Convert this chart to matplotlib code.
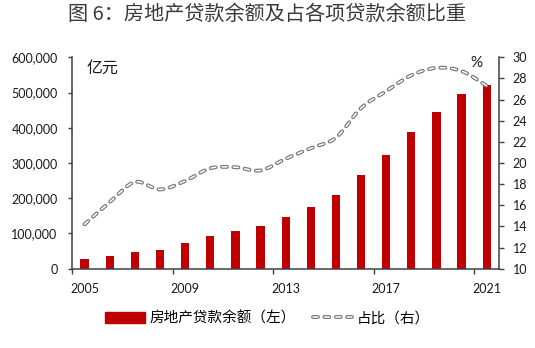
import matplotlib
matplotlib.use("Agg")
import matplotlib.pyplot as plt
from matplotlib.path import Path
from matplotlib.patches import PathPatch, Rectangle
from matplotlib.lines import Line2D
from matplotlib.legend_handler import HandlerTuple
from matplotlib.ticker import FuncFormatter, FixedLocator

plt.rcParams['font.family'] = ['Lato', 'Noto Sans CJK SC', 'DejaVu Sans']
plt.rcParams['lines.scale_dashes'] = False

years = list(range(2005, 2022))
loans = [27700, 36800, 48000, 52800, 73300, 93500, 107300, 121100, 146100,
         173700, 210100, 266800, 322000, 387000, 444100, 495800, 522500]
share = [14.2, 16.3, 18.2, 17.5, 18.3, 19.5, 19.6, 19.3, 20.4,
         21.4, 22.4, 25.2, 26.8, 28.3, 29.0, 28.7, 27.3]
label_years = ['2005', '2009', '2013', '2017', '2021']

RED = '#C00000'
GRAY = '#777777'
AXC = '#404040'
TXT = '#1a1a1a'
CJK = ['Noto Sans CJK SC', 'DejaVu Sans']

fig = plt.figure(figsize=(5.35, 3.48), dpi=100)
ax = fig.add_axes([0.1346, 0.2279, 0.9333 - 0.1346, 0.8353 - 0.2279])
ax2 = ax.twinx()

x = list(range(len(years)))
ax.bar(x, loans, width=0.33, color=RED, zorder=2)
ax.set_xlim(-0.5, len(years) - 0.5)
ax.set_ylim(0, 600000)
ax.set_yticks(range(0, 600001, 100000))
ax.yaxis.set_major_formatter(FuncFormatter(lambda v, p: f"{int(v):,}"))

# category boundary ticks every 4 years, labels centred on the bars
ax.xaxis.set_major_locator(FixedLocator([-0.5, 3.5, 7.5, 11.5, 15.5]))
ax.xaxis.set_major_formatter(FuncFormatter(lambda v, p: ""))
ax.xaxis.set_minor_locator(FixedLocator([0, 4, 8, 12, 16]))
ax.set_xticklabels(label_years, minor=True)
ax.tick_params(axis='x', which='major', direction='out', length=3.5, width=1, color=AXC)
ax.tick_params(axis='x', which='minor', length=0, pad=10, labelsize=9, labelcolor=TXT)
ax.tick_params(axis='y', direction='out', length=2.8, width=1, color=AXC,
               pad=7.5, labelsize=9, labelcolor=TXT)

ax2.set_ylim(10, 30)
ax2.set_yticks(range(10, 31, 2))
ax2.tick_params(axis='y', direction='out', length=3.5, width=1, color=AXC,
                pad=6, labelsize=9, labelcolor=TXT)

for a in (ax, ax2):
    a.spines['top'].set_visible(False)
    for s in ('left', 'right', 'bottom'):
        a.spines[s].set_color(AXC)
        a.spines[s].set_linewidth(1.1)
ax.spines['right'].set_visible(False)
ax2.spines['left'].set_visible(False)
ax2.spines['bottom'].set_visible(False)

# smoothed share curve (Catmull-Rom segments as cubic Bezier)
pts = list(zip(x, share))
verts = [pts[0]]
codes = [Path.MOVETO]
n = len(pts)
for i in range(n - 1):
    p0 = pts[i - 1] if i > 0 else pts[i]
    p1 = pts[i]
    p2 = pts[i + 1]
    p3 = pts[i + 2] if i + 2 < n else pts[i + 1]
    c1 = (p1[0] + (p2[0] - p0[0]) / 6, p1[1] + (p2[1] - p0[1]) / 6)
    c2 = (p2[0] - (p3[0] - p1[0]) / 6, p2[1] - (p3[1] - p1[1]) / 6)
    verts += [c1, c2, p2]
    codes += [Path.CURVE4] * 3
curve = Path(verts, codes)

dash = (0, (3.6, 4.6))
outer = PathPatch(curve, fill=False, edgecolor=GRAY, linewidth=2.8,
                  linestyle=dash, capstyle='round', zorder=3)
inner = PathPatch(curve, fill=False, edgecolor='white', linewidth=1.1,
                  linestyle=dash, capstyle='round', zorder=4)
ax2.add_patch(outer)
ax2.add_patch(inner)

ax.text(0.033, 0.95, '亿元', transform=ax.transAxes, fontsize=11.5,
        color=TXT, ha='left', va='center', family=CJK)
ax2.text(0.947, 0.975, '%', transform=ax2.transAxes, fontsize=11,
         color=TXT, ha='center', va='center')

fig.suptitle('图 6：房地产贷款余额及占各项贷款余额比重', x=0.5, y=0.99,
             va='top', fontsize=14.5, color='#3a3a3a', family=CJK)

h_bar = Rectangle((0, 0), 1, 1, color=RED)
h_out = Line2D([], [], color=GRAY, lw=2.8, linestyle=dash, dash_capstyle='round')
h_in = Line2D([], [], color='white', lw=1.1, linestyle=dash, dash_capstyle='round')
fig.legend([h_bar, (h_out, h_in)], ['房地产贷款余额（左）', '占比（右）'],
           handler_map={tuple: HandlerTuple(ndivide=1)},
           loc='center', bbox_to_anchor=(0.5, 0.085), ncol=2, frameon=False,
           handlelength=2.7, handletextpad=0.3, columnspacing=1.2,
           prop={'family': CJK, 'size': 10.5})

fig.savefig('out.png', dpi=100)
